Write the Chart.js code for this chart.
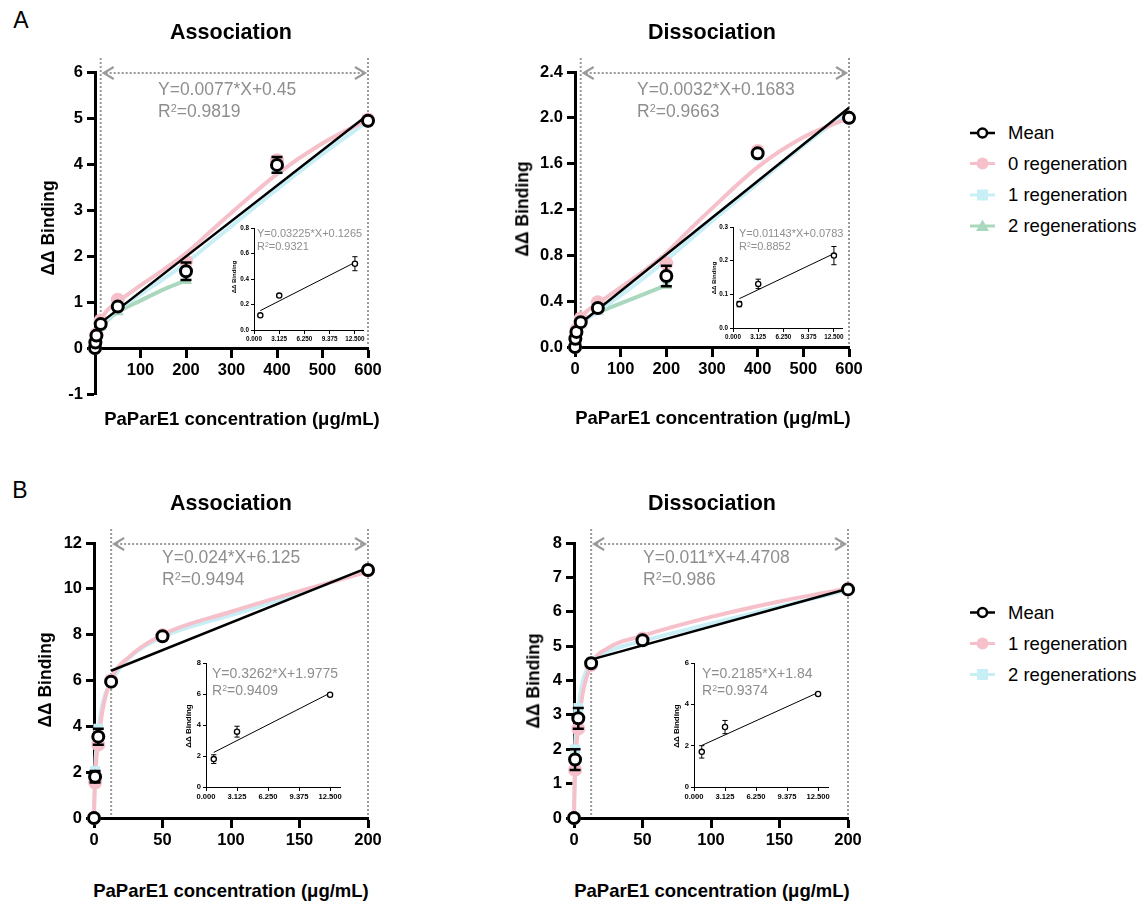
<!DOCTYPE html>
<html>
<head>
<meta charset="utf-8">
<title>PaParE1 binding</title>
<script src="https://cdn.jsdelivr.net/npm/chart.js@4.4.1/dist/chart.umd.min.js"></script>
<style>
html,body{margin:0;padding:0;background:#fff;}
body{position:relative;width:1143px;height:902px;overflow:hidden;font-family:'Liberation Sans',Arial,Helvetica,sans-serif;color:#000;}
canvas{position:absolute;}
.t{position:absolute;white-space:nowrap;line-height:1;}
.c{transform:translate(-50%,-50%);}
.v{transform:translate(-50%,-50%) rotate(-90deg);}
.l{transform:translateY(-50%);}
.panel{font-size:23px;}
.title{font-size:21.5px;font-weight:bold;}
.xt{font-size:18.5px;font-weight:bold;}
.yt{font-size:17.5px;font-weight:bold;}
.eq{font-size:17.5px;color:#8e8e8e;}
.eqs{font-size:11px;color:#8e8e8e;}
.eqm{font-size:14px;color:#8e8e8e;}
.iyt{font-size:6px;font-weight:bold;}
.iyt2{font-size:8px;font-weight:bold;}
.lg{font-size:18.5px;}
sup{font-size:0.62em;vertical-align:0;position:relative;top:-0.5em;line-height:0;}
svg{position:absolute;}
</style>
</head>
<body>
<canvas id="cA1"></canvas>
<canvas id="cA2"></canvas>
<canvas id="cB1"></canvas>
<canvas id="cB2"></canvas>
<canvas id="iA1"></canvas>
<canvas id="iA2"></canvas>
<canvas id="iB1"></canvas>
<canvas id="iB2"></canvas>

<div class="t c panel" style="left:21px;top:20px">A</div>
<div class="t c panel" style="left:20px;top:490px">B</div>

<div class="t c title" style="left:231px;top:33px">Association</div>
<div class="t c title" style="left:712px;top:33px">Dissociation</div>
<div class="t c title" style="left:231px;top:504px">Association</div>
<div class="t c title" style="left:712px;top:504px">Dissociation</div>

<div class="t c xt" style="left:242px;top:419px">PaParE1 concentration (μg/mL)</div>
<div class="t c xt" style="left:713px;top:418px">PaParE1 concentration (μg/mL)</div>
<div class="t c xt" style="left:231px;top:891px">PaParE1 concentration (μg/mL)</div>
<div class="t c xt" style="left:712px;top:891px">PaParE1 concentration (μg/mL)</div>

<div class="t v yt" style="left:48.5px;top:228px">ΔΔ Binding</div>
<div class="t v yt" style="left:522.5px;top:209px">ΔΔ Binding</div>
<div class="t v yt" style="left:46px;top:680px">ΔΔ Binding</div>
<div class="t v yt" style="left:534px;top:681px">ΔΔ Binding</div>

<div class="t l eq" style="left:158px;top:90px">Y=0.0077*X+0.45</div>
<div class="t l eq" style="left:158px;top:112px">R<sup>2</sup>=0.9819</div>
<div class="t l eq" style="left:637px;top:90px">Y=0.0032*X+0.1683</div>
<div class="t l eq" style="left:637px;top:112px">R<sup>2</sup>=0.9663</div>
<div class="t l eq" style="left:162px;top:558px">Y=0.024*X+6.125</div>
<div class="t l eq" style="left:162px;top:580px">R<sup>2</sup>=0.9494</div>
<div class="t l eq" style="left:643px;top:558px">Y=0.011*X+4.4708</div>
<div class="t l eq" style="left:643px;top:580px">R<sup>2</sup>=0.986</div>

<div class="t l eqs" style="left:257px;top:232.5px">Y=0.03225*X+0.1265</div>
<div class="t l eqs" style="left:257px;top:246px">R<sup>2</sup>=0.9321</div>
<div class="t l eqs" style="left:739px;top:232.5px">Y=0.01143*X+0.0783</div>
<div class="t l eqs" style="left:739px;top:246px">R<sup>2</sup>=0.8852</div>
<div class="t l eqm" style="left:212px;top:673px">Y=0.3262*X+1.9775</div>
<div class="t l eqm" style="left:212px;top:690px">R<sup>2</sup>=0.9409</div>
<div class="t l eqm" style="left:702px;top:673px">Y=0.2185*X+1.84</div>
<div class="t l eqm" style="left:702px;top:690px">R<sup>2</sup>=0.9374</div>

<div class="t v iyt" style="left:234px;top:277px">ΔΔ Binding</div>
<div class="t v iyt" style="left:713.5px;top:278px">ΔΔ Binding</div>
<div class="t v iyt2" style="left:188.5px;top:726px">ΔΔ Binding</div>
<div class="t v iyt2" style="left:677px;top:726px">ΔΔ Binding</div>

<svg style="left:966px;top:118px" width="34" height="125">
  <line x1="4" y1="15" x2="29" y2="15" stroke="#000" stroke-width="2.5"/>
  <circle cx="16.5" cy="15" r="4.5" fill="#fff" stroke="#000" stroke-width="2.5"/>
  <line x1="4" y1="45.5" x2="29" y2="45.5" stroke="#f6c0cb" stroke-width="3"/>
  <circle cx="16.5" cy="45.5" r="6" fill="#f6c0cb"/>
  <line x1="4" y1="77" x2="29" y2="77" stroke="#c8eef6" stroke-width="3"/>
  <rect x="11" y="71.5" width="11" height="11" fill="#c8eef6"/>
  <line x1="4" y1="108" x2="29" y2="108" stroke="#aad8be" stroke-width="3"/>
  <polygon points="16.5,101.5 23,113 10,113" fill="#aad8be"/>
</svg>
<div class="t l lg" style="left:1008px;top:133px">Mean</div>
<div class="t l lg" style="left:1008px;top:163.5px">0 regeneration</div>
<div class="t l lg" style="left:1008px;top:195px">1 regeneration</div>
<div class="t l lg" style="left:1008px;top:226px">2 regenerations</div>

<svg style="left:966px;top:598px" width="34" height="95">
  <line x1="4" y1="14.5" x2="29" y2="14.5" stroke="#000" stroke-width="2.5"/>
  <circle cx="16.5" cy="14.5" r="4.5" fill="#fff" stroke="#000" stroke-width="2.5"/>
  <line x1="4" y1="45.5" x2="29" y2="45.5" stroke="#f6c0cb" stroke-width="3"/>
  <circle cx="16.5" cy="45.5" r="6" fill="#f6c0cb"/>
  <line x1="4" y1="76.5" x2="29" y2="76.5" stroke="#c8eef6" stroke-width="3"/>
  <rect x="11" y="71" width="11" height="11" fill="#c8eef6"/>
</svg>
<div class="t l lg" style="left:1008px;top:612.5px">Mean</div>
<div class="t l lg" style="left:1008px;top:643.5px">1 regeneration</div>
<div class="t l lg" style="left:1008px;top:674.5px">2 regenerations</div>

<script>
// ================= DATA =================
// Panel A: concentrations (µg/mL)
const concA = [0, 0.78125, 3.125, 12.5, 50, 200, 400, 600];
const concA2reg = [0, 0.78125, 3.125, 12.5, 50, 200];
const fitGridA = [0, 0.78125, 3.125, 12.5, 25, 50, 100, 150, 200, 250, 300, 400, 500, 600];
const fitGridA2reg = [0, 0.78125, 3.125, 12.5, 25, 50, 100, 150, 200];
const rangeA = [12.5, 600];

// A - Association
const aAssocMean = [0, 0.12, 0.27, 0.52, 0.90, 1.67, 3.98, 4.94];
const aAssocErr  = [0, 0.01, 0.012, 0.05, 0.05, 0.19, 0.17, 0.05];
const aAssocRep0 = [0, 0.13, 0.30, 0.60, 1.05, 1.88, 4.08, 4.97];
const aAssocRep1 = [0, 0.12, 0.26, 0.48, 0.86, 1.66, 3.88, 4.91];
const aAssocRep2 = [0, 0.11, 0.25, 0.47, 0.79, 1.47];
const aAssocFit0 = [0, 0.14, 0.31, 0.60, 0.80, 1.00, 1.36, 1.70, 2.06, 2.50, 2.94, 3.78, 4.45, 4.97];
const aAssocFit1 = [0, 0.11, 0.25, 0.45, 0.60, 0.82, 1.17, 1.50, 1.85, 2.25, 2.65, 3.45, 4.22, 4.93];
const aAssocFit2 = [0, 0.10, 0.22, 0.42, 0.58, 0.78, 1.03, 1.27, 1.47];
const aAssocLine = [0.546, 5.07];

// A - Dissociation
const aDissMean = [0, 0.072, 0.132, 0.217, 0.34, 0.62, 1.69, 2.0];
const aDissErr  = [0, 0.008, 0.013, 0.012, 0.025, 0.09, 0.02, 0.02];
const aDissRep0 = [0, 0.08, 0.15, 0.25, 0.39, 0.73, 1.71, 2.0];
const aDissRep1 = [0, 0.07, 0.12, 0.20, 0.32, 0.60, 1.67, 2.01];
const aDissRep2 = [0, 0.065, 0.125, 0.20, 0.31, 0.54];
const aDissFit0 = [0, 0.10, 0.16, 0.25, 0.31, 0.38, 0.52, 0.66, 0.82, 1.02, 1.21, 1.57, 1.83, 2.0];
const aDissFit1 = [0, 0.07, 0.11, 0.19, 0.24, 0.31, 0.45, 0.60, 0.76, 0.93, 1.10, 1.43, 1.76, 2.06];
const aDissFit2 = [0, 0.06, 0.10, 0.20, 0.25, 0.30, 0.38, 0.46, 0.54];
const aDissLine = [0.208, 2.088];

// Panel B
const concB = [0, 0.78125, 3.125, 12.5, 50, 200];
const fitGridB = [0, 0.2, 0.78125, 1.5, 3.125, 6.25, 12.5, 25, 50, 100, 150, 200];
const rangeB = [12.5, 200];

// B - Association
const bAssocMean = [0, 1.8, 3.55, 5.95, 7.93, 10.82];
const bAssocErr  = [0, 0.25, 0.35, 0.08, 0.08, 0.08];
const bAssocRep1 = [0, 1.55, 3.2, 6.0, 7.97, 10.8];
const bAssocRep2 = [0, 2.05, 3.9, 5.9, 7.9, 10.85];
const bAssocFit1 = [0, 0.6, 1.55, 2.4, 3.3, 4.7, 6.05, 7.0, 8.0, 9.0, 9.9, 10.75];
const bAssocFit2 = [0, 0.8, 2.05, 2.9, 3.85, 5.0, 5.95, 6.95, 7.9, 8.85, 9.8, 10.85];
const bAssocLine = [6.425, 10.925];

// B - Dissociation
const bDissMean = [0, 1.7, 2.9, 4.5, 5.17, 6.65];
const bDissErr  = [0, 0.3, 0.3, 0.05, 0.05, 0.05];
const bDissRep1 = [0, 1.4, 2.6, 4.45, 5.22, 6.66];
const bDissRep2 = [0, 2.0, 3.2, 4.55, 5.12, 6.64];
const bDissFit1 = [0, 0.5, 1.4, 2.0, 2.6, 3.6, 4.45, 4.95, 5.3, 5.85, 6.3, 6.68];
const bDissFit2 = [0, 0.8, 2.0, 2.6, 3.2, 3.95, 4.55, 4.85, 5.15, 5.65, 6.15, 6.63];
const bDissLine = [4.608, 6.671];

// Insets (low-concentration linear range)
const insetConc = [0.78125, 3.125, 12.5];
const insetLineX = [0.78125, 12.5];
const aAssocInsetMean = [0.115, 0.27, 0.52];
const aAssocInsetErr  = [0.006, 0.012, 0.055];
const aAssocInsetLine = [0.152, 0.53];
const aDissInsetMean = [0.071, 0.131, 0.215];
const aDissInsetErr  = [0.008, 0.014, 0.027];
const aDissInsetLine = [0.087, 0.221];
const bAssocInsetMean = [1.8, 3.57, 5.95];
const bAssocInsetErr  = [0.28, 0.35, 0.05];
const bAssocInsetLine = [2.23, 6.06];
const bDissInsetMean = [1.7, 2.9, 4.5];
const bDissInsetErr  = [0.3, 0.32, 0.05];
const bDissInsetLine = [2.01, 4.57];

// Tick values
const xTicksA = [0, 100, 200, 300, 400, 500, 600];
const xTicksB = [0, 50, 100, 150, 200];
const yTicksA1 = [-1, 0, 1, 2, 3, 4, 5, 6];
const yTicksA2 = [0, 0.4, 0.8, 1.2, 1.6, 2.0, 2.4];
const yTicksB1 = [0, 2, 4, 6, 8, 10, 12];
const yTicksB2 = [0, 1, 2, 3, 4, 5, 6, 7, 8];
const insetXTicks = [0, 3.125, 6.25, 9.375, 12.5];
const insetYTicksA1 = [0, 0.2, 0.4, 0.6, 0.8];
const insetYTicksA2 = [0, 0.1, 0.2, 0.3];
const insetYTicksB1 = [0, 2, 4, 6, 8];
const insetYTicksB2 = [0, 2, 4, 6];

// ================= STYLE / HELPERS =================
Chart.defaults.font.family = "'Liberation Sans', Arial, sans-serif";
Chart.defaults.color = '#000';
const PINK = '#f6c0cb', CYAN = '#c8eef6', GREEN = '#aad8be', DOT = '#9a9a9a';

function pts(xs, ys) { return ys.map((y, i) => ({x: xs[i], y})); }

const errorBarPlugin = {
  id: 'errorBars',
  beforeDatasetDraw(chart, args) {
    const ds = chart.data.datasets[args.index];
    if (!ds.errors) return;
    const ctx = chart.ctx, xs = chart.scales.x, ys = chart.scales.y;
    ctx.save();
    ctx.strokeStyle = '#000';
    ctx.lineWidth = ds.errWidth;
    ds.data.forEach((p, i) => {
      const e = ds.errors[i];
      if (!e) return;
      const px = xs.getPixelForValue(p.x);
      const top = ys.getPixelForValue(p.y + e), bot = ys.getPixelForValue(p.y - e);
      ctx.beginPath();
      ctx.moveTo(px, top); ctx.lineTo(px, bot);
      ctx.moveTo(px - ds.capHalf, top); ctx.lineTo(px + ds.capHalf, top);
      ctx.moveTo(px - ds.capHalf, bot); ctx.lineTo(px + ds.capHalf, bot);
      ctx.stroke();
    });
    ctx.restore();
  }
};

const rangePlugin = {
  id: 'range',
  beforeDatasetsDraw(chart, args, o) {
    if (!o || o.from === undefined) return;
    const ctx = chart.ctx, xs = chart.scales.x, ys = chart.scales.y, ca = chart.chartArea;
    const x1 = xs.getPixelForValue(o.from), x2 = xs.getPixelForValue(o.to);
    const yTop = ca.top - o.above, yBot = ys.getPixelForValue(0) - o.below;
    const yA = ca.top + 1;
    ctx.save();
    ctx.strokeStyle = DOT;
    ctx.lineWidth = 2;
    ctx.setLineDash([2, 2]);
    ctx.beginPath();
    ctx.moveTo(x1, yTop); ctx.lineTo(x1, yBot);
    ctx.moveTo(x2, yTop); ctx.lineTo(x2, yBot);
    ctx.moveTo(x1 + 5, yA); ctx.lineTo(x2 - 5, yA);
    ctx.stroke();
    ctx.setLineDash([]);
    ctx.lineWidth = 2.2;
    ctx.beginPath();
    ctx.moveTo(x1 + 13, yA - 6); ctx.lineTo(x1 + 3, yA); ctx.lineTo(x1 + 13, yA + 6);
    ctx.moveTo(x2 - 13, yA - 6); ctx.lineTo(x2 - 3, yA); ctx.lineTo(x2 - 13, yA + 6);
    ctx.stroke();
    ctx.restore();
  }
};

function placeCanvas(id, area, wY, pad) {
  const cv = document.getElementById(id);
  cv.width = area.R - area.L + wY + pad.right;
  cv.height = area.B - area.T + pad.top + pad.bottom;
  cv.style.left = (area.L - wY) + 'px';
  cv.style.top = (area.T - pad.top) + 'px';
  return cv;
}

function axisX(ticks, fmt, s) {
  return {
    type: 'linear', position: {y: 0},
    min: s.xmin, max: s.xmax,
    afterBuildTicks: ax => { ax.ticks = ticks.map(v => ({value: v})); },
    ticks: {font: {size: s.font, weight: 'bold'}, color: '#000', padding: s.xpad, maxRotation: 0, autoSkip: false, callback: v => fmt(v)},
    grid: {drawOnChartArea: false, drawTicks: true, tickLength: s.tl, tickWidth: s.bw, tickColor: '#000'},
    border: {display: true, width: s.bw, color: '#000'}
  };
}
function axisY(ticks, fmt, s, wY) {
  return {
    type: 'linear', position: 'left',
    min: ticks[0], max: ticks[ticks.length - 1],
    afterFit: ax => { ax.width = wY; },
    afterBuildTicks: ax => { ax.ticks = ticks.map(v => ({value: v})); },
    ticks: {font: {size: s.font, weight: 'bold'}, color: '#000', padding: s.ypad, autoSkip: false, callback: v => fmt(v)},
    grid: {drawOnChartArea: false, drawTicks: true, tickLength: s.tl, tickWidth: s.bw, tickColor: '#000'},
    border: {display: true, width: s.bw, color: '#000'}
  };
}

function mainChart(id, area, spec) {
  const wY = 50, pad = {left: 0, top: 30, right: 25, bottom: 45};
  const cv = placeCanvas(id, area, wY, pad);
  const ds = [];
  ds.push({label: 'Mean', data: pts(spec.conc, spec.mean), showLine: false, pointRadius: 5.5, pointBorderWidth: 3,
           pointBackgroundColor: '#fff', pointBorderColor: '#000', errors: spec.err, errWidth: 2.5, capHalf: 5.5, order: 0});
  ds.push({label: 'Linear fit', data: pts(spec.range, spec.line), borderColor: '#000', borderWidth: 2.5, pointRadius: 0, order: 1});
  spec.reps.forEach(r => ds.push({label: r.label, data: pts(r.x, r.y), showLine: false, pointStyle: r.style, pointRadius: 7,
           pointBackgroundColor: r.color, pointBorderColor: r.color, pointBorderWidth: 0, order: 2}));
  spec.fits.forEach(f => ds.push({label: f.label + ' fit', data: pts(f.x, f.y), borderColor: f.color, borderWidth: 4,
           pointRadius: 0, cubicInterpolationMode: 'monotone', order: 3}));
  ds.forEach(d => { d.clip = false; });
  const s = {font: 16.5, tl: 8, bw: 3, xpad: 5, ypad: 4, xmin: spec.xTicks[0], xmax: spec.xTicks[spec.xTicks.length - 1]};
  return new Chart(cv, {
    type: 'line',
    data: {datasets: ds},
    options: {
      responsive: false, animation: false, devicePixelRatio: 1,
      layout: {padding: pad, autoPadding: false},
      plugins: {legend: {display: false}, tooltip: {enabled: false},
                range: {from: spec.range[0], to: spec.range[1], above: 14, below: 2}},
      scales: {x: axisX(spec.xTicks, spec.xFmt, s), y: axisY(spec.yTicks, spec.yFmt, s, wY)}
    },
    plugins: [rangePlugin, errorBarPlugin]
  });
}

function insetChart(id, area, spec) {
  const wY = 22, pad = {left: 0, top: 8, right: 12, bottom: 24};
  const cv = placeCanvas(id, area, wY, pad);
  const ds = [
    {label: 'Mean', data: pts(insetConc, spec.mean), showLine: false, pointRadius: 2.6, pointBorderWidth: 1.3,
     pointBackgroundColor: '#fff', pointBorderColor: '#000', errors: spec.err, errWidth: 1, capHalf: 2.6, order: 0, clip: false},
    {label: 'Linear fit', data: pts(insetLineX, spec.line), borderColor: '#000', borderWidth: 1, pointRadius: 0, order: 1, clip: false}
  ];
  const s = {font: spec.font, tl: 3, bw: 1, xpad: 2, ypad: 2, xmin: 0, xmax: 13.5};
  return new Chart(cv, {
    type: 'line',
    data: {datasets: ds},
    options: {
      responsive: false, animation: false, devicePixelRatio: 1,
      layout: {padding: pad, autoPadding: false},
      plugins: {legend: {display: false}, tooltip: {enabled: false}},
      scales: {x: axisX(insetXTicks, v => v.toFixed(3), s), y: axisY(spec.yTicks, spec.yFmt, s, wY)}
    },
    plugins: [errorBarPlugin]
  });
}

const intFmt = v => String(v);
const oneDec = v => v.toFixed(1);

// ================= CHARTS =================
mainChart('cA1', {L: 95, T: 72, R: 368, B: 394}, {
  conc: concA, mean: aAssocMean, err: aAssocErr, range: rangeA, line: aAssocLine,
  reps: [
    {label: '0 regeneration', x: concA, y: aAssocRep0, color: PINK, style: 'circle'},
    {label: '1 regeneration', x: concA, y: aAssocRep1, color: CYAN, style: 'rect'},
    {label: '2 regenerations', x: concA2reg, y: aAssocRep2, color: GREEN, style: 'triangle'}],
  fits: [
    {label: '0 regeneration', x: fitGridA, y: aAssocFit0, color: PINK},
    {label: '1 regeneration', x: fitGridA, y: aAssocFit1, color: CYAN},
    {label: '2 regenerations', x: fitGridA2reg, y: aAssocFit2, color: GREEN}],
  xTicks: xTicksA, xFmt: v => (v === 0 ? '' : String(v)), yTicks: yTicksA1, yFmt: intFmt
});

mainChart('cA2', {L: 575, T: 72, R: 849, B: 347}, {
  conc: concA, mean: aDissMean, err: aDissErr, range: rangeA, line: aDissLine,
  reps: [
    {label: '0 regeneration', x: concA, y: aDissRep0, color: PINK, style: 'circle'},
    {label: '1 regeneration', x: concA, y: aDissRep1, color: CYAN, style: 'rect'},
    {label: '2 regenerations', x: concA2reg, y: aDissRep2, color: GREEN, style: 'triangle'}],
  fits: [
    {label: '0 regeneration', x: fitGridA, y: aDissFit0, color: PINK},
    {label: '1 regeneration', x: fitGridA, y: aDissFit1, color: CYAN},
    {label: '2 regenerations', x: fitGridA2reg, y: aDissFit2, color: GREEN}],
  xTicks: xTicksA, xFmt: intFmt, yTicks: yTicksA2, yFmt: oneDec
});

mainChart('cB1', {L: 94, T: 543, R: 368, B: 818}, {
  conc: concB, mean: bAssocMean, err: bAssocErr, range: rangeB, line: bAssocLine,
  reps: [
    {label: '1 regeneration', x: concB, y: bAssocRep1, color: PINK, style: 'circle'},
    {label: '2 regenerations', x: concB, y: bAssocRep2, color: CYAN, style: 'rect'}],
  fits: [
    {label: '1 regeneration', x: fitGridB, y: bAssocFit1, color: PINK},
    {label: '2 regenerations', x: fitGridB, y: bAssocFit2, color: CYAN}],
  xTicks: xTicksB, xFmt: intFmt, yTicks: yTicksB1, yFmt: intFmt
});

mainChart('cB2', {L: 574, T: 543, R: 848, B: 818}, {
  conc: concB, mean: bDissMean, err: bDissErr, range: rangeB, line: bDissLine,
  reps: [
    {label: '1 regeneration', x: concB, y: bDissRep1, color: PINK, style: 'circle'},
    {label: '2 regenerations', x: concB, y: bDissRep2, color: CYAN, style: 'rect'}],
  fits: [
    {label: '1 regeneration', x: fitGridB, y: bDissFit1, color: PINK},
    {label: '2 regenerations', x: fitGridB, y: bDissFit2, color: CYAN}],
  xTicks: xTicksB, xFmt: intFmt, yTicks: yTicksB2, yFmt: intFmt
});

insetChart('iA1', {L: 254, T: 228, R: 363, B: 330}, {mean: aAssocInsetMean, err: aAssocInsetErr, line: aAssocInsetLine, yTicks: insetYTicksA1, yFmt: oneDec, font: 6.3});
insetChart('iA2', {L: 733, T: 227, R: 842, B: 328}, {mean: aDissInsetMean, err: aDissInsetErr, line: aDissInsetLine, yTicks: insetYTicksA2, yFmt: oneDec, font: 6.3});
insetChart('iB1', {L: 206, T: 663, R: 340, B: 787}, {mean: bAssocInsetMean, err: bAssocInsetErr, line: bAssocInsetLine, yTicks: insetYTicksB1, yFmt: intFmt, font: 7.6});
insetChart('iB2', {L: 694, T: 663, R: 828, B: 787}, {mean: bDissInsetMean, err: bDissInsetErr, line: bDissInsetLine, yTicks: insetYTicksB2, yFmt: intFmt, font: 7.6});
</script>
</body>
</html>
